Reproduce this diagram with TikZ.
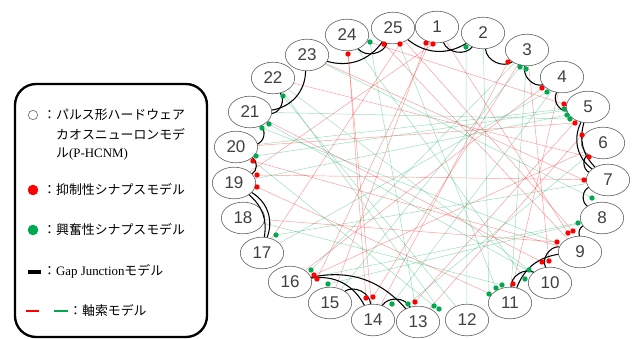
\documentclass[tikz,border=0pt]{standalone}
\usepackage{fontspec}
\setmainfont{Liberation Serif}
\newfontfamily\jp{Noto Sans CJK JP}
\newfontfamily\numfont{Liberation Sans}
\usepackage{tikz}
\usetikzlibrary{shapes.geometric,calc}

\definecolor{synred}{RGB}{255,0,0}
\definecolor{syngreen}{RGB}{0,168,80}

\tikzset{
  neuron/.style={ellipse, draw=gray!75!black, line width=0.5pt, fill=white,
    minimum width=37pt, minimum height=27pt, inner sep=0pt,
    font=\numfont\fontsize{14.5}{14.5}\selectfont, text=black!75},
  inh/.style={circle, fill=synred, inner sep=0pt, minimum size=4.6pt},
  exc/.style={circle, fill=syngreen, inner sep=0pt, minimum size=4.6pt},
  redaxon/.style={synred, opacity=0.4, line width=0.4pt},
  greenaxon/.style={syngreen, opacity=0.4, line width=0.4pt},
  gap/.style={black, line width=0.9pt},
  legtext/.style={anchor=west, inner sep=0pt, font=\fontsize{11}{11}\selectfont},
}

\begin{document}
\begin{tikzpicture}[x=0.03cm, y=-0.03cm]
    \useasboundingbox (0,0) rectangle (638,339);

    % legend
    \draw[line width=2pt, rounded corners=18pt] (15,84) rectangle (207,337);
    \node[circle, draw=gray!80!black, line width=0.5pt, minimum size=8pt, inner sep=0pt] (lneuron) at (33,115) {};
    \node[legtext] (l1) at (43,115) {\jp ：パルス形ハードウェア};
    \node[legtext] (l2) at (56,134) {\jp カオスニューロンモデ};
    \node[legtext] (l3) at (56,154) {{\jp ル}(P-HCNM)};
    \node[inh, minimum size=9pt] (linh) at (33,190) {};
    \node[legtext] (l4) at (43,190) {\jp ：抑制性シナプスモデル};
    \node[exc, minimum size=9pt] (lexc) at (33,230) {};
    \node[legtext] (l5) at (43,230) {\jp ：興奮性シナプスモデル};
    \node[fill=black, minimum width=11pt, minimum height=3.5pt, inner sep=0pt] (lgap) at (34.5,272) {};
    \node[legtext] (l6) at (43,271) {{\jp ：}Gap Junction{\jp モデル}};
    \draw[synred, line width=1.2pt] (26,311) -- (39,311);
    \draw[syngreen, line width=1.2pt] (54,311) -- (68,311);
    \node[legtext] (l7) at (69,311) {\jp ：軸索モデル};

    % neurons
    \foreach \n/\x/\y in {1/437/27, 2/483/33, 3/527/50, 4/562/77, 5/588/107,
        6/603/143, 7/608/180, 8/602/218, 9/580/252, 10/550/283, 11/510/303,
        12/467/320, 13/418/322, 14/373/320, 15/330/303, 16/290/282,
        17/262/253, 18/243/218, 19/234/183, 20/236/147, 21/250/112,
        22/273/78, 23/307/55, 24/347/35, 25/393/28}
      \node[neuron] (n\n) at (\x,\y) {\n};

    % axons (inhibitory)
    \foreach \d/\x/\y/\t in {1/348/54/14, 2/384/44/9, 3/400/44/17, 4/426/43/15,
        5/433/44/19, 6/508/62/14, 7/542/88/16, 8/564/104/24, 9/575/123/20,
        10/582/135/13, 11/589/157/22, 12/584/180/23, 13/568/233/1,
        14/573/231/25, 15/557/242/18, 16/542/262/21, 17/549/261/3,
        18/513/284/4, 19/415/302/5, 20/366/298/24, 21/373/297/3,
        22/314/275/6, 23/317/279/1, 24/253/161/9, 25/257/175/7, 26/257/187/11} {
      \coordinate (r\d) at (\x,\y);
      \draw[redaxon] (r\d) -- (n\t);
    }
    % axons (excitatory)
    \foreach \d/\x/\y/\t in {1/370/42/13, 2/466/47/12, 3/520/67/15, 4/526/69/11,
        5/547/92/17, 6/564/109/20, 7/567/115/19, 8/570/119/21, 9/592/198/23,
        10/578/223/16, 11/529/270/22, 12/525/279/24, 13/502/285/18,
        14/496/288/25, 15/489/294/2, 16/434/306/20, 17/439/309/22,
        18/392/304/4, 19/408/304/6, 20/328/284/8, 21/311/270/3,
        22/276/235/7, 23/256/156/5, 24/262/128/9, 25/269/124/10, 26/283/96/12} {
      \coordinate (g\d) at (\x,\y);
      \draw[greenaxon] (g\d) -- (n\t);
    }

    % gap junctions
    \foreach \a/\b in {1/2, 2/3, 3/4, 4/5, 6/7, 7/8, 9/10, 10/11, 13/14,
        14/15, 19/20, 20/21, 21/22, 24/25}
      \draw[gap] (n\a) to[bend right=60] (n\b);
    \draw[gap] (n25) to[bend right=35] (n2);
    \draw[gap] (n5) to[bend right=40] (n7);
    \draw[gap] (n5) to[bend right=30] (n7);
    \draw[gap] (n8) to[bend right=35] (n9);
    \draw[gap] (n9) to[bend right=30] (n11);
    \draw[gap] (n16) to[bend left=35] (n14);
    \draw[gap] (n16) to[bend left=30] (n13);
    \draw[gap] (n17) to[bend right=40] (n19);
    \draw[gap] (n17) to[bend right=30] (n19);
    \draw[gap] (n21) to[bend right=40] (n23);
    \draw[gap] (n23) to[bend right=35] (n25);

    % synapses
    \foreach \d in {1,...,26} {
      \node[inh] (ri\d) at (r\d) {};
      \node[exc] (ge\d) at (g\d) {};
    }
\end{tikzpicture}
\end{document}
